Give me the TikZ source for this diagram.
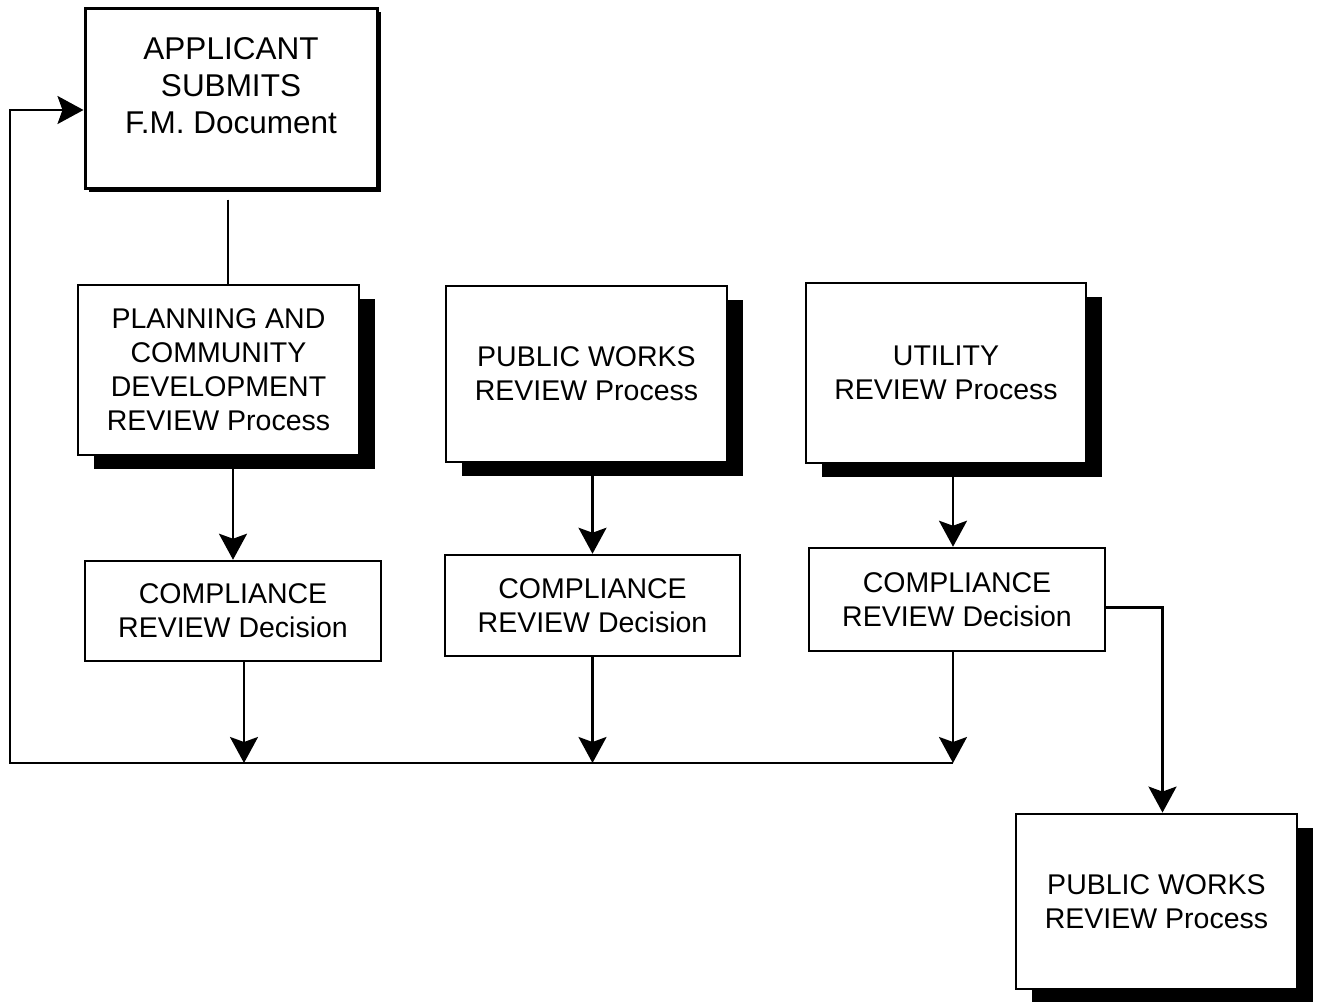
\documentclass[tikz,border=0pt]{standalone}
\usepackage{fontspec}
\setmainfont{Liberation Sans}
\usetikzlibrary{arrows.meta,shadows,calc}
\begin{document}
\begin{tikzpicture}[x=1pt,y=-1pt,
  boxtext/.style={font=\fontsize{28.5}{34}\selectfont, align=center},
  bigbox/.style={draw, line width=2.8pt, fill=white, rectangle, inner sep=0pt, boxtext,
    drop shadow={shadow xshift=16pt, shadow yshift=-14pt, fill=black, opacity=1}},
  appbox/.style={draw, line width=3pt, fill=white, rectangle, inner sep=0pt,
    drop shadow={shadow xshift=4pt, shadow yshift=-4pt, fill=black, opacity=1}},
  decbox/.style={draw, line width=2.5pt, fill=white, rectangle, inner sep=0pt, boxtext},
  conn/.style={line width=2.2pt},
  arr/.style={line width=2.5pt, -{Stealth[length=26pt,width=28pt,inset=5pt]}}]
\fill[white] (0,0) rectangle (1322,1001);
\useasboundingbox (0,0) rectangle (1322,1001);

% nodes
\node[appbox, minimum width=292pt, minimum height=180pt,
  label={[font=\fontsize{31.5}{37}\selectfont, align=center, yshift=12pt]center:APPLICANT\\SUBMITS\\F.M. Document}]
  (A) at (231,98) {};
\node[bigbox, minimum width=281pt, minimum height=170pt] (P) at (218.5,370)
  {PLANNING AND\\COMMUNITY\\DEVELOPMENT\\REVIEW Process};
\node[bigbox, minimum width=281pt, minimum height=176pt] (B) at (586.5,374)
  {PUBLIC WORKS\\REVIEW Process};
\node[bigbox, minimum width=280pt, minimum height=180pt] (C) at (946,373)
  {UTILITY\\REVIEW Process};
\node[decbox, minimum width=296pt, minimum height=100pt] (D1) at (233,611)
  {COMPLIANCE\\REVIEW Decision};
\node[decbox, minimum width=295pt, minimum height=101pt] (D2) at (592.5,605.5)
  {COMPLIANCE\\REVIEW Decision};
\node[decbox, minimum width=296pt, minimum height=103pt] (D3) at (957,599.5)
  {COMPLIANCE\\REVIEW Decision};
\node[bigbox, minimum width=281pt, minimum height=175pt] (E) at (1156.5,901.5)
  {PUBLIC WORKS\\REVIEW Process};

\coordinate (busL) at (10,763);
\coordinate (busR) at (953,763);

% connectors
\draw[conn] ([xshift=-3pt,yshift=-10pt]A.south) -- ([xshift=-3pt]A.south |- P.north);
\draw[arr] (P.south -| D1.north) -- (D1.north);
\draw[arr] (B.south -| D2.north) -- (D2.north);
\draw[arr] ([xshift=-4pt]C.south -| D3.north) -- ([xshift=-4pt]D3.north);
\draw[arr] ([xshift=11pt]D1.south) -- ([xshift=11pt]D1.south |- busL);
\draw[arr] (D2.south) -- (D2.south |- busL);
\draw[arr] ([xshift=-4pt]D3.south) -- ([xshift=-4pt]D3.south |- busL);
\draw[arr] (busR) -- (busL) |- ([yshift=-12pt]A.west);
\draw[arr] ([yshift=-8pt]D3.east) -| ([xshift=6pt]E.north);
\end{tikzpicture}
\end{document}
